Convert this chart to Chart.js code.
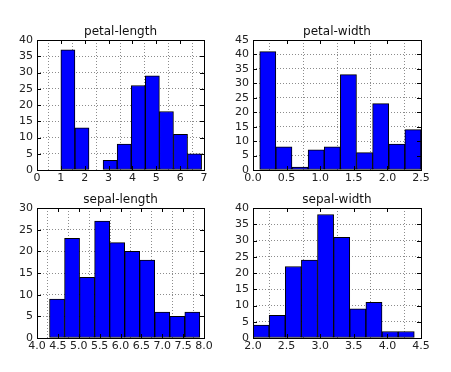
<!DOCTYPE html>
<html>
<head>
<meta charset="utf-8">
<script src="https://cdn.jsdelivr.net/npm/chart.js@4/dist/chart.umd.min.js"></script>
<style>
html,body{margin:0;padding:0;background:#fff;width:451px;height:372px;overflow:hidden;}
canvas{position:absolute;}
</style>
</head>
<body>
<canvas id="c1"></canvas>
<canvas id="c2"></canvas>
<canvas id="c3"></canvas>
<canvas id="c4"></canvas>
<script>
// ---- data ----
const petalLengthEdges = [1.0, 1.59, 2.18, 2.77, 3.36, 3.95, 4.54, 5.13, 5.72, 6.31, 6.9];
const petalLengthCounts = [37, 13, 0, 3, 8, 26, 29, 18, 11, 5];
const petalWidthEdges = [0.1, 0.34, 0.58, 0.82, 1.06, 1.3, 1.54, 1.78, 2.02, 2.26, 2.5];
const petalWidthCounts = [41, 8, 1, 7, 8, 33, 6, 23, 9, 14];
const sepalLengthEdges = [4.3, 4.66, 5.02, 5.38, 5.74, 6.1, 6.46, 6.82, 7.18, 7.54, 7.9];
const sepalLengthCounts = [9, 23, 14, 27, 22, 20, 18, 6, 5, 6];
const sepalWidthEdges = [2.0, 2.24, 2.48, 2.72, 2.96, 3.2, 3.44, 3.68, 3.92, 4.16, 4.4];
const sepalWidthCounts = [4, 7, 22, 24, 38, 31, 9, 11, 2, 2];
const titles = ['petal-length', 'petal-width', 'sepal-length', 'sepal-width'];
const xTicks = [[0,7,1,0],[0,2.5,0.5,1],[4,8,0.5,1],[2,4.5,0.5,1]]; // min,max,step,decimals
const yTicks = [[0,40,5],[0,45,5],[0,30,5],[0,40,5]];

const FONT = "'DejaVu Sans', sans-serif";
const Y_W = 37, TOP = 20, X_H = 22, RIGHT = 21;

const framePlugin = {
  id: 'frame',
  afterDraw(chart) {
    const {ctx, chartArea: a, scales} = chart;
    ctx.save();
    ctx.strokeStyle = '#000';
    ctx.lineWidth = 1;
    ctx.beginPath();
    scales.x.ticks.forEach((t) => {
      const p = Math.round(scales.x.getPixelForValue(t.value)) + 0.5;
      ctx.moveTo(p, a.bottom); ctx.lineTo(p, a.bottom - 4);
      ctx.moveTo(p, a.top); ctx.lineTo(p, a.top + 4);
    });
    scales.y.ticks.forEach((t) => {
      const p = Math.round(scales.y.getPixelForValue(t.value)) + 0.5;
      ctx.moveTo(a.left, p); ctx.lineTo(a.left + 4, p);
      ctx.moveTo(a.right, p); ctx.lineTo(a.right - 4, p);
    });
    ctx.stroke();
    ctx.strokeRect(Math.round(a.left) + 0.5, Math.round(a.top) + 0.5,
                   Math.round(a.right - a.left), Math.round(a.bottom - a.top));
    ctx.restore();
  }
};

function makeChart(id, idx, edges, counts, area) {
  const [l, t, r, b] = area;
  const cv = document.getElementById(id);
  const w = r - l + Y_W + RIGHT, h = b - t + TOP + X_H;
  cv.width = w; cv.height = h;
  cv.style.left = (l - Y_W) + 'px';
  cv.style.top = (t - TOP) + 'px';
  cv.style.width = w + 'px'; cv.style.height = h + 'px';
  const pts = counts.map((c, i) => ({x: (edges[i] + edges[i + 1]) / 2, y: c}));
  const [xmin, xmax, xstep, xdec] = xTicks[idx];
  const [ymin, ymax, ystep] = yTicks[idx];
  new Chart(cv, {
    type: 'bar',
    data: { datasets: [{
      data: pts,
      backgroundColor: '#0000ff',
      borderColor: '#000',
      borderWidth: 1,
      barPercentage: 1,
      categoryPercentage: 1,
      borderSkipped: false
    }]},
    options: {
      responsive: false,
      animation: false,
      devicePixelRatio: 1,
      layout: { padding: { left: 0, right: RIGHT, top: 0, bottom: 0 } },
      plugins: {
        legend: { display: false },
        tooltip: { enabled: false },
        title: {
          display: true, text: titles[idx], fullSize: false,
          color: '#111',
          font: { family: FONT, size: 12, weight: 'normal', lineHeight: 1.2 },
          padding: { top: 4.8, bottom: TOP - 14.4 - 4.8 }
        }
      },
      scales: {
        x: {
          type: 'linear', offset: false, min: xmin, max: xmax,
          afterFit(s) { s.height = X_H; },
          afterBuildTicks(s) {
            const arr = [];
            for (let v = xmin; v <= xmax + 1e-9; v += xstep) arr.push({value: +v.toFixed(3)});
            s.ticks = arr;
          },
          ticks: {
            color: '#222', padding: 2, maxRotation: 0, autoSkip: false,
            font: { family: FONT, size: 11 },
            callback: v => Number(v).toFixed(xdec)
          },
          grid: { color: 'rgba(0,0,0,0.45)', lineWidth: 1, drawTicks: false },
          border: { display: false, dash: [1, 2] }
        },
        y: {
          type: 'linear', min: ymin, max: ymax,
          afterFit(s) { s.width = Y_W; },
          ticks: {
            stepSize: ystep, color: '#222', padding: 4, autoSkip: false,
            font: { family: FONT, size: 11 }
          },
          grid: { color: 'rgba(0,0,0,0.45)', lineWidth: 1, drawTicks: false },
          border: { display: false, dash: [1, 2] }
        }
      }
    },
    plugins: [framePlugin]
  });
}

makeChart('c1', 0, petalLengthEdges, petalLengthCounts, [37, 40, 204, 170]);
makeChart('c2', 1, petalWidthEdges, petalWidthCounts, [253, 40, 421, 170]);
makeChart('c3', 2, sepalLengthEdges, sepalLengthCounts, [37, 208, 204, 338]);
makeChart('c4', 3, sepalWidthEdges, sepalWidthCounts, [253, 208, 421, 338]);
</script>
</body>
</html>
